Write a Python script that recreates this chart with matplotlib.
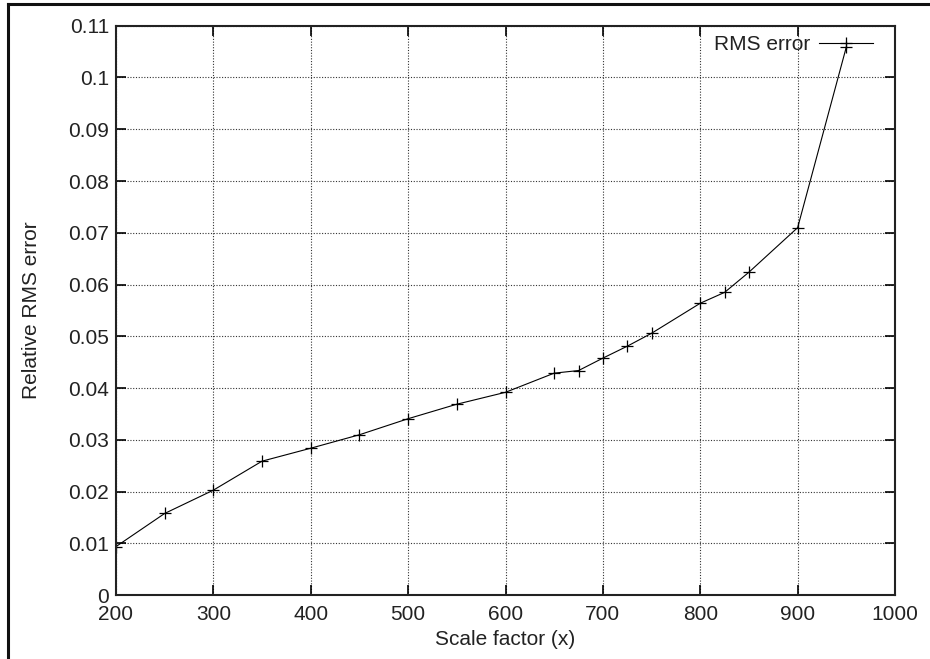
import matplotlib
matplotlib.use('Agg')
import matplotlib.pyplot as plt
from matplotlib.lines import Line2D

plt.rcParams['font.family'] = ['Liberation Sans', 'DejaVu Sans']

# Data
scale = [200, 250, 300, 350, 400, 450, 500, 550, 600, 650, 675, 700,
         725, 750, 800, 825, 850, 900, 950]
rms = [0.0094, 0.0158, 0.0203, 0.0259, 0.0284, 0.0310, 0.0341, 0.0369,
       0.0392, 0.0429, 0.0434, 0.0458, 0.0481, 0.0506, 0.0564, 0.0585,
       0.0624, 0.0710, 0.1059]
xticks = [200, 300, 400, 500, 600, 700, 800, 900, 1000]
yticks = [0, 0.01, 0.02, 0.03, 0.04, 0.05, 0.06, 0.07, 0.08, 0.09, 0.1, 0.11]
ytick_labels = ['0', '0.01', '0.02', '0.03', '0.04', '0.05', '0.06',
                '0.07', '0.08', '0.09', '0.1', '0.11']

text_color = '#222222'
fs = 15

fig = plt.figure(figsize=(9.3, 6.59), dpi=100)
ax = fig.add_axes([0.1247, 0.0967, 0.8377, 0.8643])

ax.plot(scale, rms, color='black', linewidth=0.8, marker='+',
        markersize=8, markeredgewidth=0.9, label='RMS error')

ax.set_xlim(200, 1000)
ax.set_ylim(0, 0.11)
ax.set_xticks(xticks)
ax.set_xticklabels([str(t) for t in xticks])
ax.set_yticks(yticks)
ax.set_yticklabels(ytick_labels)

ax.grid(True, linestyle=(0, (1, 1.5)), color='#333333', linewidth=0.8)
ax.tick_params(direction='in', length=7, width=1.2, top=True, right=True,
               labelsize=fs, labelcolor=text_color)
ax.tick_params(axis='x', pad=7)
ax.tick_params(axis='y', pad=5)
for s in ax.spines.values():
    s.set_linewidth(1.5)
    s.set_color('#222222')

ax.set_xlabel('Scale factor (x)', fontsize=fs, color=text_color, va='center')
ax.set_ylabel('Relative RMS error', fontsize=fs, color=text_color, va='center')
ax.xaxis.set_label_coords(0.5, -0.078)
ax.yaxis.set_label_coords(-0.108, 0.5)

leg = ax.legend(loc='upper right', bbox_to_anchor=(0.972, 0.983),
                frameon=False, markerfirst=False, handlelength=2.6,
                fontsize=fs, borderaxespad=0, borderpad=0,
                handletextpad=0.4)
for t in leg.get_texts():
    t.set_color(text_color)

# Figure frame (top and left edge only)
fig.add_artist(Line2D([0.0086, 1.0], [0.9939, 0.9939], color='#111111',
                      linewidth=2.2, transform=fig.transFigure))
fig.add_artist(Line2D([0.0086, 0.0086], [0.0, 0.9939], color='#111111',
                      linewidth=2.2, transform=fig.transFigure))

fig.savefig('out.png', dpi=100)
